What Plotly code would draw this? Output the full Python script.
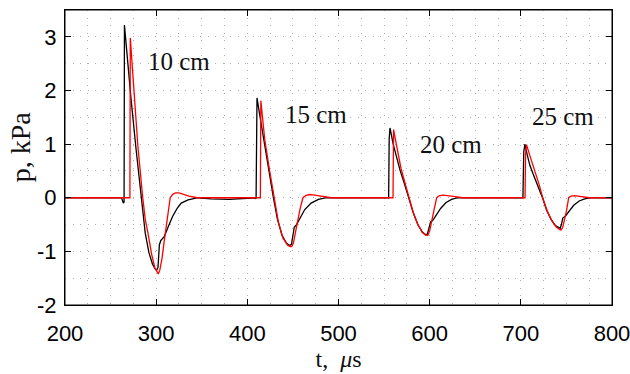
import plotly.graph_objects as go

# ---- data (t in microseconds, p in kPa) ----
t_black_10 = [200, 262, 264, 264.8, 265.2, 266, 268, 272.5, 278, 284, 288, 292, 296, 299, 300.5, 302, 303.5, 305, 309, 313, 318, 323, 327.5, 335, 346, 360, 380, 400]
p_black_10 = [0, 0, -0.1, -0.08, 3.22, 3.05, 2.7, 1.83, 0.9, 0, -0.66, -1.02, -1.24, -1.33, -1.35, -1.3, -0.88, -0.8, -0.72, -0.55, -0.35, -0.2, -0.1, -0.04, 0, -0.02, -0.03, -0.01]
t_black_15 = [400, 408, 409.6, 410, 410.6, 414, 419, 424, 428.6, 433, 438, 443, 446.5, 448.4, 449.5, 451.5, 454, 458, 463, 470, 478, 487, 550]
p_black_15 = [-0.01, 0, -0.02, 1.5, 1.86, 1.5, 0.96, 0.45, 0, -0.4, -0.7, -0.85, -0.89, -0.87, -0.75, -0.55, -0.5, -0.38, -0.22, -0.1, -0.03, 0, 0]
t_black_20 = [550, 555, 555.6, 556.5, 560, 563, 567.4, 572, 577, 582, 587, 592, 595.5, 597.4, 599, 601, 603.5, 607, 612, 618, 624, 631, 700]
p_black_20 = [0, 0, 1.1, 1.3, 1.0, 0.8, 0.52, 0.28, 0, -0.28, -0.5, -0.64, -0.69, -0.68, -0.58, -0.45, -0.42, -0.33, -0.2, -0.09, -0.03, 0, 0]
t_black_25 = [700, 702.3, 703.2, 704.5, 707, 710, 714, 719, 723.8, 728, 733, 738, 741.5, 743.2, 744.5, 746, 749, 753, 758, 764, 770, 777, 800]
p_black_25 = [0, 0, 0.85, 1.0, 0.8, 0.6, 0.42, 0.22, 0, -0.22, -0.4, -0.52, -0.56, -0.57, -0.5, -0.38, -0.34, -0.25, -0.14, -0.06, -0.02, 0, 0]

t_red_10 = [200, 271.2, 271.6, 276, 280, 285.3, 288, 291, 295, 298.5, 301, 302.3, 304, 306.5, 308.5, 310, 312.5, 315.4, 318, 321, 325, 330, 336, 345, 400]
p_red_10 = [0, 0, 2.98, 1.83, 0.95, 0, -0.4, -0.66, -1.05, -1.3, -1.4, -1.42, -1.35, -1.12, -0.85, -0.66, -0.3, 0, 0.06, 0.09, 0.09, 0.06, 0.03, 0, 0]
t_red_15 = [400, 414.3, 414.8, 419, 424, 429.5, 434, 439, 444, 447, 448.7, 450.5, 452.5, 455, 458, 461, 464, 468, 474, 482, 492, 550]
p_red_15 = [0, 0, 1.81, 1.1, 0.55, 0, -0.45, -0.75, -0.88, -0.91, -0.91, -0.85, -0.7, -0.45, -0.2, 0, 0.04, 0.06, 0.05, 0.03, 0, 0]
t_red_20 = [550, 559.8, 560.4, 564, 568.5, 573, 577.5, 582, 587, 592, 596, 598, 600, 602, 604.5, 607.7, 611, 615, 621, 628, 636, 700]
p_red_20 = [0, 0, 1.27, 0.95, 0.55, 0.27, 0, -0.28, -0.5, -0.65, -0.7, -0.7, -0.62, -0.48, -0.25, 0, 0.04, 0.05, 0.04, 0.02, 0, 0]
t_red_25 = [700, 704.6, 705.2, 706.2, 710, 715, 720, 724, 729, 734, 739, 742.5, 744.2, 746, 748, 750, 752.5, 755, 759, 765, 775, 800]
p_red_25 = [0, 0, 0.8, 0.99, 0.78, 0.52, 0.25, 0, -0.25, -0.43, -0.55, -0.59, -0.6, -0.55, -0.42, -0.25, 0, 0.03, 0.04, 0.02, 0, 0]

labels = ["10 cm", "15 cm", "20 cm", "25 cm"]
label_t = [325, 475, 623, 746]
label_p = [2.54, 1.56, 1.0, 1.52]

x_ticks = [200, 300, 400, 500, 600, 700, 800]
y_ticks = [-2, -1, 0, 1, 2, 3]

t_black = t_black_10 + t_black_15[1:] + t_black_20[1:] + t_black_25[1:]
p_black = p_black_10 + p_black_15[1:] + p_black_20[1:] + p_black_25[1:]
t_red = t_red_10 + t_red_15[1:] + t_red_20[1:] + t_red_25[1:]
p_red = p_red_10 + p_red_15[1:] + p_red_20[1:] + p_red_25[1:]

fig = go.Figure()
fig.add_trace(go.Scatter(x=t_black, y=p_black, mode="lines",
                         line=dict(color="black", width=1.3), showlegend=False))
fig.add_trace(go.Scatter(x=t_red, y=p_red, mode="lines",
                         line=dict(color="#ff0000", width=1.3), showlegend=False))

for txt, tx, py in zip(labels, label_t, label_p):
    fig.add_annotation(x=tx, y=py, text=txt, showarrow=False,
                       font=dict(family="Liberation Serif", size=25, color="#111"))

# y-axis title placed as a rotated annotation (sits slightly above centre in the reference)
fig.add_annotation(xref="paper", yref="paper", x=-0.082, y=0.535, text="p, kPa",
                   textangle=-90, showarrow=False, xanchor="center", yanchor="middle",
                   font=dict(family="Liberation Serif", size=28, color="#111"))

# frame around the plotting area
fig.add_shape(type="rect", xref="paper", yref="paper", x0=0, x1=1, y0=0, y1=1,
              line=dict(color="black", width=1), fillcolor="rgba(0,0,0,0)", layer="above")

grid = dict(showgrid=True, gridcolor="#b0b0b0", gridwidth=1, griddash="1px,6.5px")

fig.update_xaxes(range=[200, 800], tickvals=x_ticks, ticktext=[str(v) for v in x_ticks],
                 ticks="inside", ticklen=6, tickcolor="black", ticklabelstandoff=9,
                 ticklabeloverflow="allow",
                 showline=True, linecolor="black", linewidth=1, mirror="ticks",
                 zeroline=False, automargin=False,
                 minor=dict(dtick=25, tick0=200, ticks="", **grid), **grid,
                 tickfont=dict(family="Liberation Sans", size=22, color="black"),
                 title=dict(text="t,&nbsp; <i>μ</i>s", standoff=0,
                            font=dict(family="Liberation Serif", size=24, color="#111")))
fig.update_yaxes(range=[-2, 3.5], tickvals=y_ticks, ticktext=[str(v) for v in y_ticks],
                 ticks="inside", ticklen=6, tickcolor="black", ticklabelstandoff=3,
                 ticklabeloverflow="allow",
                 showline=True, linecolor="black", linewidth=1, mirror="ticks",
                 zeroline=False, automargin=False,
                 minor=dict(dtick=0.5, tick0=0, ticks="", **grid), **grid,
                 tickfont=dict(family="Liberation Sans", size=22, color="black"))

fig.update_layout(width=630, height=374, margin=dict(l=65, r=18, t=10, b=69),
                  plot_bgcolor="white", paper_bgcolor="white")

fig.write_html("out.html")
